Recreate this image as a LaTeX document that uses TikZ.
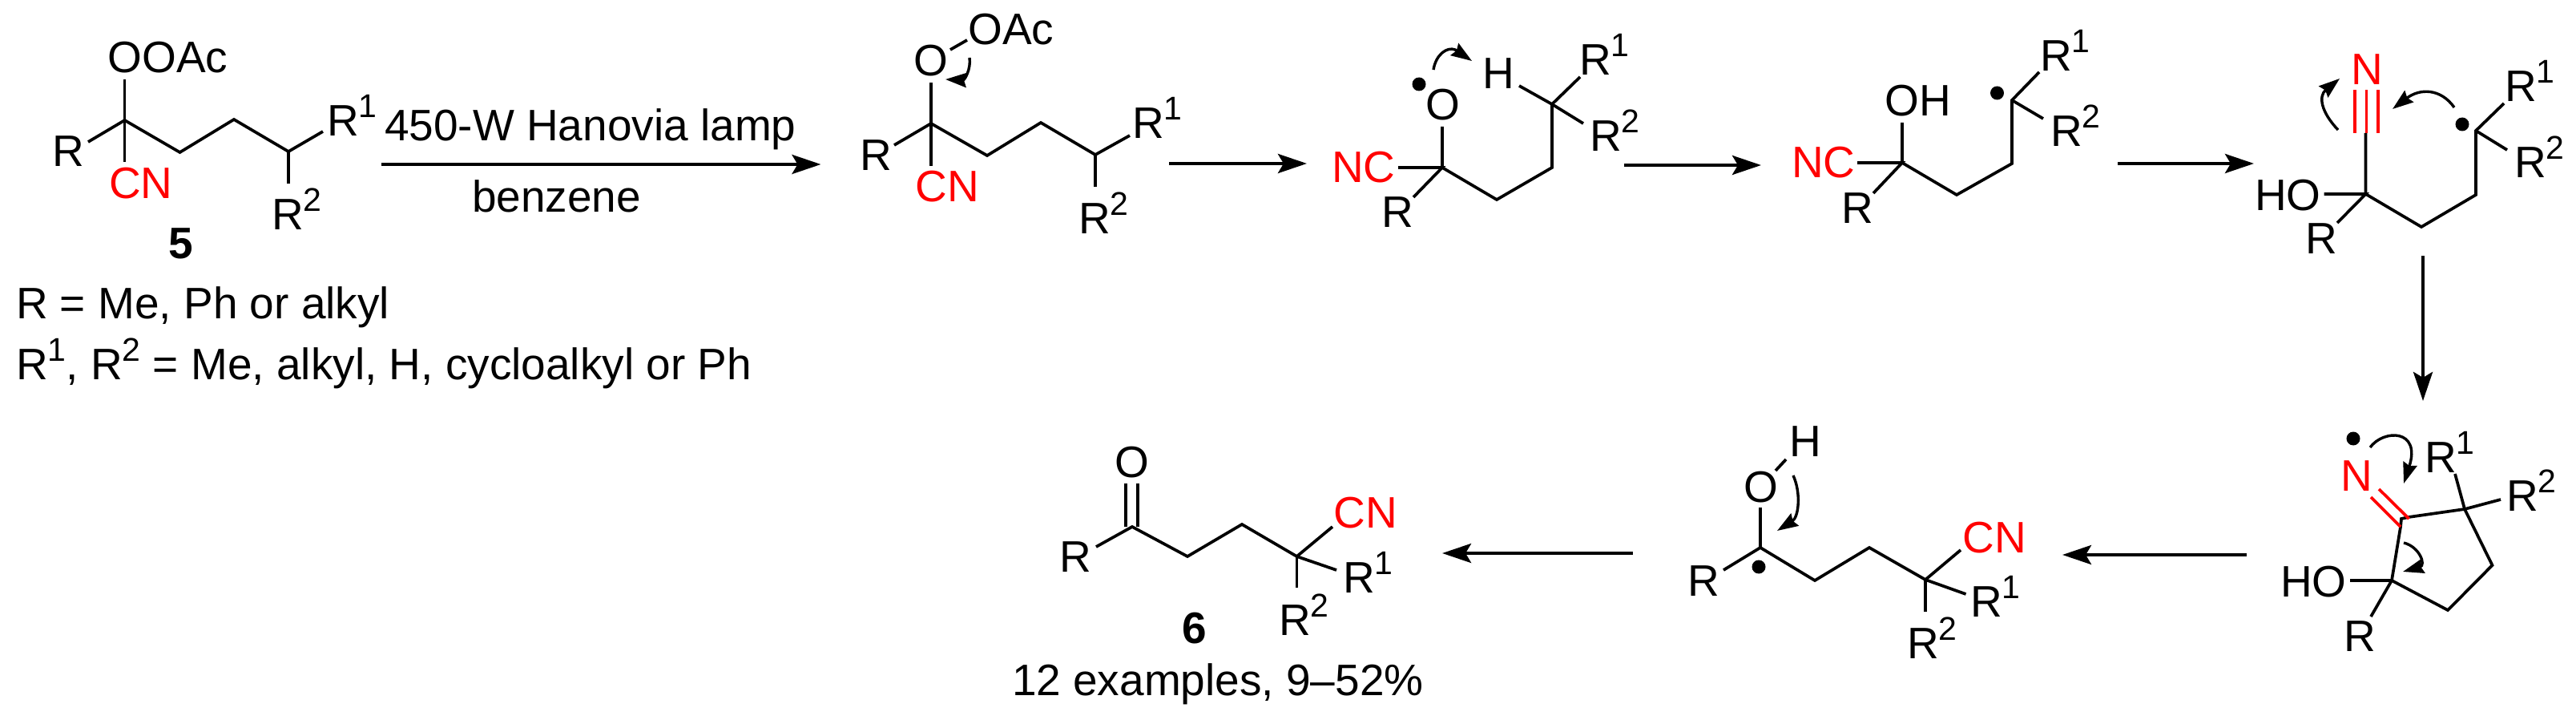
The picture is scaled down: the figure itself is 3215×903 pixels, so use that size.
\documentclass[tikz,border=0pt]{standalone}
\usepackage{fontspec}
\setmainfont{Liberation Sans}
\usetikzlibrary{arrows.meta}
\newcommand\Sp[1]{\raisebox{11.5pt}{\fontsize{20.5}{24}\selectfont #1}}
\definecolor{cnred}{RGB}{255,0,0}
\tikzset{
  lab/.style={anchor=base west,inner sep=0pt,outer sep=0pt,font=\fontsize{27.5}{32}\selectfont},
  redlab/.style={lab,text=cnred},
  bond/.style={line width=1.85pt,line cap=butt,line join=miter,black},
  redbond/.style={bond,draw=cnred},
  react/.style={line width=2.1pt,-{Stealth[length=18pt,width=12pt,inset=3.5pt]}},
  curv/.style={line width=1.7pt,-{Stealth[length=13pt,width=9pt,inset=1.5pt]}},
  dot/.style={circle,fill=black,inner sep=0pt,minimum size=8.5pt},
}
\begin{document}
\begin{tikzpicture}[x=0.5pt,y=-0.5pt]
\useasboundingbox (0,0) rectangle (3215,903);

% compound 5
\coordinate (a1) at (155.6,150); \coordinate (aO) at (155.6,99); \coordinate (aN) at (155.6,202);
\coordinate (aR) at (110,177); \coordinate (a2) at (224.5,190); \coordinate (a3) at (292,149);
\coordinate (a4) at (360,189); \coordinate (aRa) at (403,164); \coordinate (aRb) at (360,229);
\draw[bond] (aO) -- (aN);
\draw[bond] (aR) -- (a1) -- (a2) -- (a3) -- (a4) -- (aRa);
\draw[bond] (a4) -- (aRb);
\node[lab] (aOOAc) at (134.5,91) {OOAc};
\node[redlab] (aCN) at (136,248) {CN};
\node[lab] (aRl) at (65,208) {R};
\node[lab] (aR1l) at (408,170) {R\Sp{1}};
\node[lab] (aR2l) at (339,287) {R\Sp{2}};
\node[lab] (five) at (210,323) {\textbf{5}};
\node[lab] (defa) at (20,397) {R = Me, Ph or alkyl};
\node[lab] (defb) at (20,473) {R\Sp{1}, R\Sp{2} = Me, alkyl, H, cycloalkyl or Ph};

% reaction arrow 1
\coordinate (r1s) at (476,205); \coordinate (r1e) at (1024.5,205);
\draw[react] (r1s) -- (r1e);
\node[lab] (cond1) at (480,176) {450-W Hanovia lamp};
\node[lab] (cond2) at (589,265) {benzene};

% intermediate 2
\coordinate (b1) at (1162,154); \coordinate (bO) at (1162,103); \coordinate (bN) at (1162,207);
\coordinate (bR) at (1116,181); \coordinate (b2) at (1232,194); \coordinate (b3) at (1299,153);
\coordinate (b4) at (1367,193); \coordinate (bRa) at (1410,169); \coordinate (bRb) at (1367,233);
\coordinate (bOa) at (1186,62); \coordinate (bOb) at (1207,50);
\draw[bond] (bO) -- (bN);
\draw[bond] (bR) -- (b1) -- (b2) -- (b3) -- (b4) -- (bRa);
\draw[bond] (b4) -- (bRb);
\draw[bond] (bOa) -- (bOb);
\node[lab] (bOl) at (1140.5,95) {O};
\node[lab] (bOAc) at (1208.5,56) {OAc};
\node[redlab] (bCN) at (1142.5,252) {CN};
\node[lab] (bRl) at (1073,213) {R};
\node[lab] (bR1l) at (1413,173) {R\Sp{1}};
\node[lab] (bR2l) at (1346,292) {R\Sp{2}};
\coordinate (bcs) at (1210,72); \coordinate (bce) at (1180,99);
\draw[curv] (bcs) .. controls (1212,86) and (1204,100) .. (bce);

% arrow 2
\coordinate (r2s) at (1459,204); \coordinate (r2e) at (1631,204);
\draw[react] (r2s) -- (r2e);

% intermediate 3
\coordinate (c1) at (1800,209); \coordinate (cO) at (1800,158); \coordinate (cN) at (1745,209);
\coordinate (cR) at (1764,246); \coordinate (c2) at (1868,249); \coordinate (c3) at (1937,209);
\coordinate (c4) at (1937,130); \coordinate (cH) at (1896,107); \coordinate (cRa) at (1972,96);
\coordinate (cRb) at (1976,154);
\draw[bond] (cO) -- (c1) -- (c2) -- (c3) -- (c4) -- (cH);
\draw[bond] (cN) -- (c1) -- (cR);
\draw[bond] (c4) -- (cRa);
\draw[bond] (c4) -- (cRb);
\node[lab] (cOl) at (1779.5,150) {O};
\node[dot] (cdot) at (1771,105) {};
\node[redlab] (cNC) at (1662,228) {NC};
\node[lab] (cRl) at (1724,284) {R};
\node[lab] (cHl) at (1850,111) {H};
\node[lab] (cR1l) at (1971,94) {R\Sp{1}};
\node[lab] (cR2l) at (1984,189) {R\Sp{2}};
\coordinate (ccs) at (1789,87); \coordinate (cce) at (1837,76);
\draw[curv] (ccs) .. controls (1792,68) and (1806,58) .. (1816,62) -- (cce);

% arrow 3
\coordinate (r3s) at (2027,206); \coordinate (r3e) at (2198,206);
\draw[react] (r3s) -- (r3e);

% intermediate 4
\coordinate (d1) at (2374,203); \coordinate (dO) at (2374,153); \coordinate (dN) at (2318,203);
\coordinate (dR) at (2338,241); \coordinate (d2) at (2442,243); \coordinate (d3) at (2511,204);
\coordinate (d4) at (2511,125); \coordinate (dRa) at (2545,90); \coordinate (dRb) at (2550,148);
\draw[bond] (dO) -- (d1) -- (d2) -- (d3) -- (d4) -- (dRa);
\draw[bond] (dN) -- (d1) -- (dR);
\draw[bond] (d4) -- (dRb);
\node[lab] (dOH) at (2352.5,145) {OH};
\node[redlab] (dNC) at (2236,222) {NC};
\node[lab] (dRl) at (2298,279) {R};
\node[dot] (ddot) at (2492.5,116) {};
\node[lab] (dR1l) at (2546,89) {R\Sp{1}};
\node[lab] (dR2l) at (2559,183) {R\Sp{2}};

% arrow 4
\coordinate (r4s) at (2643,204); \coordinate (r4e) at (2813,204);
\draw[react] (r4s) -- (r4e);

% intermediate 5
\coordinate (e1) at (2952.5,242); \coordinate (eT) at (2952.5,166); \coordinate (eN) at (2900.5,242);
\coordinate (eR) at (2917,278); \coordinate (e2) at (3022,283); \coordinate (e3) at (3090,243);
\coordinate (e4) at (3090,163); \coordinate (eRa) at (3125,129); \coordinate (eRb) at (3129,187);
\coordinate (eta) at (2939,166); \coordinate (etb) at (2939,112);
\coordinate (etc) at (2953.5,166); \coordinate (etd) at (2953.5,112);
\coordinate (ete) at (2968,166); \coordinate (etf) at (2968,112);
\draw[bond] (eT) -- (e1) -- (e2) -- (e3) -- (e4) -- (eRa);
\draw[bond] (eN) -- (e1) -- (eR);
\draw[bond] (e4) -- (eRb);
\draw[redbond] (eta) -- (etb);
\draw[redbond] (etc) -- (etd);
\draw[redbond] (ete) -- (etf);
\node[redlab] (eNl) at (2934,106) {N};
\node[lab] (eHO) at (2814,263) {HO};
\node[lab] (eRl) at (2877,317) {R};
\node[dot] (edot) at (3073,155) {};
\node[lab] (eR1l) at (3126,127) {R\Sp{1}};
\node[lab] (eR2l) at (3138,222) {R\Sp{2}};
\coordinate (ecs) at (2918,162); \coordinate (ece) at (2920,98);
\draw[curv] (ecs) .. controls (2897,140) and (2893,120) .. (ece);
\coordinate (eds) at (3063,134); \coordinate (ede) at (2986,136);
\draw[curv] (eds) .. controls (3046,110) and (3020,110) .. (ede);

% arrow 5 (down)
\coordinate (r5s) at (3024,319); \coordinate (r5e) at (3024,500);
\draw[react] (r5s) -- (r5e);

% intermediate 6
\coordinate (f1) at (2985,724); \coordinate (fH) at (2933,724); \coordinate (fR) at (2959,769);
\coordinate (f2) at (2997,647); \coordinate (f2b) at (3006,645); \coordinate (f3) at (3076,635);
\coordinate (f4) at (3110.5,705); \coordinate (f5) at (3055,761); \coordinate (f2c) at (2996,657);
\coordinate (fRa) at (3064,591); \coordinate (fRb) at (3121,623);
\coordinate (fda) at (2996,657); \coordinate (fdb) at (2959,620);
\coordinate (fdc) at (3006.5,647); \coordinate (fdd) at (2969,610);
\draw[bond] (fH) -- (f1) -- (f5) -- (f4) -- (f3) -- (f2b);
\draw[bond] (f1) -- (fR);
\draw[bond] (f1) -- (f2c) -- (f2) -- (f2b);
\draw[bond] (f3) -- (fRb);
\draw[bond] (f3) -- (fRa);
\draw[redbond] (fda) -- (fdb);
\draw[redbond] (fdc) -- (fdd);
\node[redlab] (fNl) at (2921,612) {N};
\node[lab] (fHO) at (2846,744) {HO};
\node[lab] (fRl) at (2925,812) {R};
\node[dot] (fdot) at (2937,547) {};
\node[lab] (fR1l) at (3026,589) {R\Sp{1}};
\node[lab] (fR2l) at (3128,637) {R\Sp{2}};
\coordinate (fcs) at (2958,558); \coordinate (fce) at (3000,603);
\draw[curv] (fcs) .. controls (2975,535) and (3022,535) .. (fce);
\coordinate (fds) at (3000,677); \coordinate (fde) at (2999,713);
\draw[curv] (fds) .. controls (3020,682) and (3028,705) .. (fde);

% arrow 6
\coordinate (r6s) at (2804,692); \coordinate (r6e) at (2574,692);
\draw[react] (r6s) -- (r6e);

% intermediate 7
\coordinate (g1) at (2197,683); \coordinate (gO) at (2197,633); \coordinate (gR) at (2151,711);
\coordinate (g2) at (2265,724); \coordinate (g3) at (2333,683); \coordinate (g4) at (2403,723);
\coordinate (gC) at (2447,686); \coordinate (gRa) at (2453.5,741); \coordinate (gRb) at (2403,763);
\coordinate (gOa) at (2216,587); \coordinate (gOb) at (2229,573);
\draw[bond] (gO) -- (g1) -- (g2) -- (g3) -- (g4) -- (gC);
\draw[bond] (gR) -- (g1);
\draw[bond] (g4) -- (gRa);
\draw[bond] (g4) -- (gRb);
\draw[bond] (gOa) -- (gOb);
\node[lab] (gOl) at (2176.5,626) {O};
\node[lab] (gHl) at (2233,569) {H};
\node[lab] (gRl) at (2106,743) {R};
\node[dot] (gdot) at (2195,707) {};
\node[redlab] (gCN) at (2449.5,689) {CN};
\node[lab] (gR1l) at (2459,769) {R\Sp{1}};
\node[lab] (gR2l) at (2380,821) {R\Sp{2}};
\coordinate (gcs) at (2238,593); \coordinate (gce) at (2218,662);
\draw[curv] (gcs) .. controls (2248,615) and (2245,645) .. (gce);

% arrow 7
\coordinate (r7s) at (2038,690); \coordinate (r7e) at (1800,690);
\draw[react] (r7s) -- (r7e);

% product 6
\coordinate (h1) at (1413,657); \coordinate (hR) at (1368,682); \coordinate (h2) at (1482,694);
\coordinate (h3) at (1550,654); \coordinate (h4) at (1618.5,694); \coordinate (hC) at (1663,657);
\coordinate (hRa) at (1668,711); \coordinate (hRb) at (1618.5,733);
\coordinate (hda) at (1405,657); \coordinate (hdb) at (1405,603);
\coordinate (hdc) at (1420,657); \coordinate (hdd) at (1420,603);
\draw[bond] (hR) -- (h1) -- (h2) -- (h3) -- (h4) -- (hC);
\draw[bond] (h4) -- (hRa);
\draw[bond] (h4) -- (hRb);
\draw[bond] (hda) -- (hdb);
\draw[bond] (hdc) -- (hdd);
\node[lab] (hOl) at (1391.5,595) {O};
\node[lab] (hRl) at (1322,713) {R};
\node[redlab] (hCN) at (1664.5,658) {CN};
\node[lab] (hR1l) at (1676,739) {R\Sp{1}};
\node[lab] (hR2l) at (1596,792) {R\Sp{2}};
\node[lab] (six) at (1475,802) {\textbf{6}};
\node[lab] (yield) at (1263,867) {12 examples, 9--52\%};
\end{tikzpicture}
\end{document}
